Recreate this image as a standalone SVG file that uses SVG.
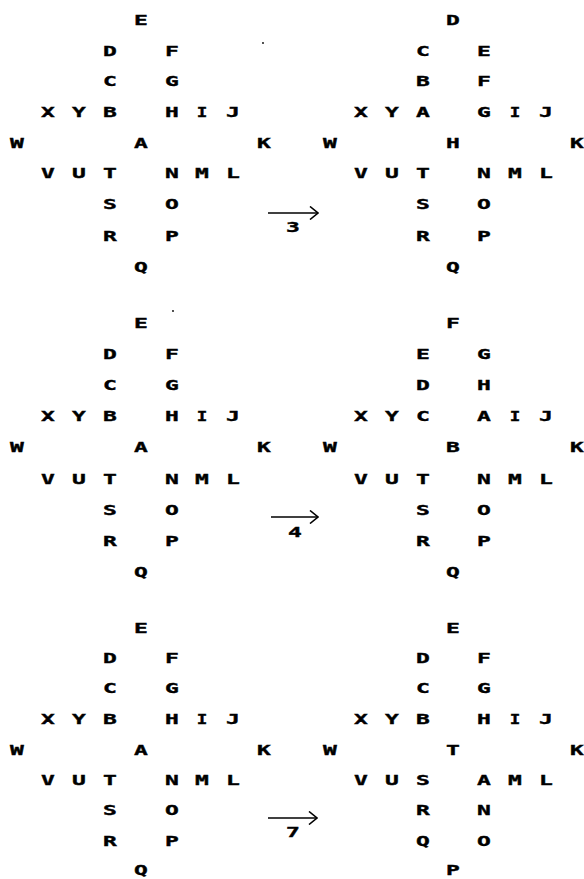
<svg xmlns="http://www.w3.org/2000/svg" width="584" height="879" viewBox="0 0 584 879">
<style>
.t{font-family:"DejaVu Sans Mono","Liberation Mono",monospace;font-weight:bold;font-size:13.5px;text-anchor:middle;fill:#000;stroke:#000;stroke-width:0.35;transform:scale(1.7,1)}
.n{transform:scale(1.3,1)}
.a{stroke:#000;stroke-width:1.6;fill:none}
</style>
<defs>
<marker id="head" viewBox="-9 -7 10 14" refX="0" refY="0" markerWidth="10" markerHeight="14" markerUnits="userSpaceOnUse" orient="auto">
<path d="M-8,-6.5 L0,0 L-8,6.5" fill="none" stroke="#000" stroke-width="1.6"/>
</marker>
</defs>
<rect width="584" height="879" fill="#fff"/>

<g id="panel1">
<g id="p1-E" transform="translate(141,25)"><text class="t">E</text></g>
<g id="p1-D" transform="translate(110,56)"><text class="t">D</text></g>
<g id="p1-F" transform="translate(172,56)"><text class="t">F</text></g>
<g id="p1-C" transform="translate(110,86)"><text class="t">C</text></g>
<g id="p1-G" transform="translate(172,86)"><text class="t">G</text></g>
<g id="p1-X" transform="translate(48,117)"><text class="t">X</text></g>
<g id="p1-Y" transform="translate(79,117)"><text class="t">Y</text></g>
<g id="p1-B" transform="translate(110,117)"><text class="t">B</text></g>
<g id="p1-H" transform="translate(172,117)"><text class="t">H</text></g>
<g id="p1-I" transform="translate(202,117)"><text class="t n">I</text></g>
<g id="p1-J" transform="translate(233,117)"><text class="t">J</text></g>
<g id="p1-W" transform="translate(17,148)"><text class="t">W</text></g>
<g id="p1-A" transform="translate(141,148)"><text class="t">A</text></g>
<g id="p1-K" transform="translate(264,148)"><text class="t">K</text></g>
<g id="p1-V" transform="translate(48,178)"><text class="t">V</text></g>
<g id="p1-U" transform="translate(79,178)"><text class="t">U</text></g>
<g id="p1-T" transform="translate(110,178)"><text class="t">T</text></g>
<g id="p1-N" transform="translate(172,178)"><text class="t">N</text></g>
<g id="p1-M" transform="translate(202,178)"><text class="t">M</text></g>
<g id="p1-L" transform="translate(233,178)"><text class="t">L</text></g>
<g id="p1-S" transform="translate(110,209)"><text class="t">S</text></g>
<g id="p1-O" transform="translate(172,209)"><text class="t">O</text></g>
<g id="p1-R" transform="translate(110,241)"><text class="t">R</text></g>
<g id="p1-P" transform="translate(172,241)"><text class="t">P</text></g>
<g id="p1-Q" transform="translate(141,272)"><text class="t">Q</text></g>
</g>

<g id="panel2">
<g id="p2-D" transform="translate(453,25)"><text class="t">D</text></g>
<g id="p2-C" transform="translate(423,56)"><text class="t">C</text></g>
<g id="p2-E" transform="translate(484,56)"><text class="t">E</text></g>
<g id="p2-B" transform="translate(423,86)"><text class="t">B</text></g>
<g id="p2-F" transform="translate(484,86)"><text class="t">F</text></g>
<g id="p2-X" transform="translate(361,117)"><text class="t">X</text></g>
<g id="p2-Y" transform="translate(392,117)"><text class="t">Y</text></g>
<g id="p2-A" transform="translate(423,117)"><text class="t">A</text></g>
<g id="p2-G" transform="translate(484,117)"><text class="t">G</text></g>
<g id="p2-I" transform="translate(515,117)"><text class="t n">I</text></g>
<g id="p2-J" transform="translate(546,117)"><text class="t">J</text></g>
<g id="p2-W" transform="translate(330,148)"><text class="t">W</text></g>
<g id="p2-H" transform="translate(453,148)"><text class="t">H</text></g>
<g id="p2-K" transform="translate(577,148)"><text class="t">K</text></g>
<g id="p2-V" transform="translate(361,178)"><text class="t">V</text></g>
<g id="p2-U" transform="translate(392,178)"><text class="t">U</text></g>
<g id="p2-T" transform="translate(423,178)"><text class="t">T</text></g>
<g id="p2-N" transform="translate(484,178)"><text class="t">N</text></g>
<g id="p2-M" transform="translate(515,178)"><text class="t">M</text></g>
<g id="p2-L" transform="translate(546,178)"><text class="t">L</text></g>
<g id="p2-S" transform="translate(423,209)"><text class="t">S</text></g>
<g id="p2-O" transform="translate(484,209)"><text class="t">O</text></g>
<g id="p2-R" transform="translate(423,241)"><text class="t">R</text></g>
<g id="p2-P" transform="translate(484,241)"><text class="t">P</text></g>
<g id="p2-Q" transform="translate(453,272)"><text class="t">Q</text></g>
</g>

<g id="panel3">
<g id="p3-E" transform="translate(141,328)"><text class="t">E</text></g>
<g id="p3-D" transform="translate(110,359)"><text class="t">D</text></g>
<g id="p3-F" transform="translate(172,359)"><text class="t">F</text></g>
<g id="p3-C" transform="translate(110,390)"><text class="t">C</text></g>
<g id="p3-G" transform="translate(172,390)"><text class="t">G</text></g>
<g id="p3-X" transform="translate(48,421)"><text class="t">X</text></g>
<g id="p3-Y" transform="translate(79,421)"><text class="t">Y</text></g>
<g id="p3-B" transform="translate(110,421)"><text class="t">B</text></g>
<g id="p3-H" transform="translate(172,421)"><text class="t">H</text></g>
<g id="p3-I" transform="translate(202,421)"><text class="t n">I</text></g>
<g id="p3-J" transform="translate(233,421)"><text class="t">J</text></g>
<g id="p3-W" transform="translate(17,452)"><text class="t">W</text></g>
<g id="p3-A" transform="translate(141,452)"><text class="t">A</text></g>
<g id="p3-K" transform="translate(264,452)"><text class="t">K</text></g>
<g id="p3-V" transform="translate(48,484)"><text class="t">V</text></g>
<g id="p3-U" transform="translate(79,484)"><text class="t">U</text></g>
<g id="p3-T" transform="translate(110,484)"><text class="t">T</text></g>
<g id="p3-N" transform="translate(172,484)"><text class="t">N</text></g>
<g id="p3-M" transform="translate(202,484)"><text class="t">M</text></g>
<g id="p3-L" transform="translate(233,484)"><text class="t">L</text></g>
<g id="p3-S" transform="translate(110,515)"><text class="t">S</text></g>
<g id="p3-O" transform="translate(172,515)"><text class="t">O</text></g>
<g id="p3-R" transform="translate(110,546)"><text class="t">R</text></g>
<g id="p3-P" transform="translate(172,546)"><text class="t">P</text></g>
<g id="p3-Q" transform="translate(141,577)"><text class="t">Q</text></g>
</g>

<g id="panel4">
<g id="p4-F" transform="translate(453,328)"><text class="t">F</text></g>
<g id="p4-E" transform="translate(423,359)"><text class="t">E</text></g>
<g id="p4-G" transform="translate(484,359)"><text class="t">G</text></g>
<g id="p4-D" transform="translate(423,390)"><text class="t">D</text></g>
<g id="p4-H" transform="translate(484,390)"><text class="t">H</text></g>
<g id="p4-X" transform="translate(361,421)"><text class="t">X</text></g>
<g id="p4-Y" transform="translate(392,421)"><text class="t">Y</text></g>
<g id="p4-C" transform="translate(423,421)"><text class="t">C</text></g>
<g id="p4-A" transform="translate(484,421)"><text class="t">A</text></g>
<g id="p4-I" transform="translate(515,421)"><text class="t n">I</text></g>
<g id="p4-J" transform="translate(546,421)"><text class="t">J</text></g>
<g id="p4-W" transform="translate(330,452)"><text class="t">W</text></g>
<g id="p4-B" transform="translate(453,452)"><text class="t">B</text></g>
<g id="p4-K" transform="translate(577,452)"><text class="t">K</text></g>
<g id="p4-V" transform="translate(361,484)"><text class="t">V</text></g>
<g id="p4-U" transform="translate(392,484)"><text class="t">U</text></g>
<g id="p4-T" transform="translate(423,484)"><text class="t">T</text></g>
<g id="p4-N" transform="translate(484,484)"><text class="t">N</text></g>
<g id="p4-M" transform="translate(515,484)"><text class="t">M</text></g>
<g id="p4-L" transform="translate(546,484)"><text class="t">L</text></g>
<g id="p4-S" transform="translate(423,515)"><text class="t">S</text></g>
<g id="p4-O" transform="translate(484,515)"><text class="t">O</text></g>
<g id="p4-R" transform="translate(423,546)"><text class="t">R</text></g>
<g id="p4-P" transform="translate(484,546)"><text class="t">P</text></g>
<g id="p4-Q" transform="translate(453,577)"><text class="t">Q</text></g>
</g>

<g id="panel5">
<g id="p5-E" transform="translate(141,633)"><text class="t">E</text></g>
<g id="p5-D" transform="translate(110,663)"><text class="t">D</text></g>
<g id="p5-F" transform="translate(172,663)"><text class="t">F</text></g>
<g id="p5-C" transform="translate(110,693)"><text class="t">C</text></g>
<g id="p5-G" transform="translate(172,693)"><text class="t">G</text></g>
<g id="p5-X" transform="translate(48,724)"><text class="t">X</text></g>
<g id="p5-Y" transform="translate(79,724)"><text class="t">Y</text></g>
<g id="p5-B" transform="translate(110,724)"><text class="t">B</text></g>
<g id="p5-H" transform="translate(172,724)"><text class="t">H</text></g>
<g id="p5-I" transform="translate(202,724)"><text class="t n">I</text></g>
<g id="p5-J" transform="translate(233,724)"><text class="t">J</text></g>
<g id="p5-W" transform="translate(17,755)"><text class="t">W</text></g>
<g id="p5-A" transform="translate(141,755)"><text class="t">A</text></g>
<g id="p5-K" transform="translate(264,755)"><text class="t">K</text></g>
<g id="p5-V" transform="translate(48,785)"><text class="t">V</text></g>
<g id="p5-U" transform="translate(79,785)"><text class="t">U</text></g>
<g id="p5-T" transform="translate(110,785)"><text class="t">T</text></g>
<g id="p5-N" transform="translate(172,785)"><text class="t">N</text></g>
<g id="p5-M" transform="translate(202,785)"><text class="t">M</text></g>
<g id="p5-L" transform="translate(233,785)"><text class="t">L</text></g>
<g id="p5-S" transform="translate(110,815)"><text class="t">S</text></g>
<g id="p5-O" transform="translate(172,815)"><text class="t">O</text></g>
<g id="p5-R" transform="translate(110,846)"><text class="t">R</text></g>
<g id="p5-P" transform="translate(172,846)"><text class="t">P</text></g>
<g id="p5-Q" transform="translate(141,875)"><text class="t">Q</text></g>
</g>

<g id="panel6">
<g id="p6-E" transform="translate(453,633)"><text class="t">E</text></g>
<g id="p6-D" transform="translate(423,663)"><text class="t">D</text></g>
<g id="p6-F" transform="translate(484,663)"><text class="t">F</text></g>
<g id="p6-C" transform="translate(423,693)"><text class="t">C</text></g>
<g id="p6-G" transform="translate(484,693)"><text class="t">G</text></g>
<g id="p6-X" transform="translate(361,724)"><text class="t">X</text></g>
<g id="p6-Y" transform="translate(392,724)"><text class="t">Y</text></g>
<g id="p6-B" transform="translate(423,724)"><text class="t">B</text></g>
<g id="p6-H" transform="translate(484,724)"><text class="t">H</text></g>
<g id="p6-I" transform="translate(515,724)"><text class="t n">I</text></g>
<g id="p6-J" transform="translate(546,724)"><text class="t">J</text></g>
<g id="p6-W" transform="translate(330,755)"><text class="t">W</text></g>
<g id="p6-T" transform="translate(453,755)"><text class="t">T</text></g>
<g id="p6-K" transform="translate(577,755)"><text class="t">K</text></g>
<g id="p6-V" transform="translate(361,785)"><text class="t">V</text></g>
<g id="p6-U" transform="translate(392,785)"><text class="t">U</text></g>
<g id="p6-S" transform="translate(423,785)"><text class="t">S</text></g>
<g id="p6-A" transform="translate(484,785)"><text class="t">A</text></g>
<g id="p6-M" transform="translate(515,785)"><text class="t">M</text></g>
<g id="p6-L" transform="translate(546,785)"><text class="t">L</text></g>
<g id="p6-R" transform="translate(423,815)"><text class="t">R</text></g>
<g id="p6-N" transform="translate(484,815)"><text class="t">N</text></g>
<g id="p6-Q" transform="translate(423,846)"><text class="t">Q</text></g>
<g id="p6-O" transform="translate(484,846)"><text class="t">O</text></g>
<g id="p6-P" transform="translate(453,875)"><text class="t">P</text></g>
</g>

<g id="connectors">
<line class="a" x1="268" y1="213" x2="318" y2="213" marker-end="url(#head)"/>
<line class="a" x1="271" y1="517" x2="318" y2="517" marker-end="url(#head)"/>
<line class="a" x1="268" y1="818" x2="317" y2="818" marker-end="url(#head)"/>
<g transform="translate(293,232)"><text class="t">3</text></g>
<g transform="translate(295,537)"><text class="t">4</text></g>
<g transform="translate(293,837)"><text class="t">7</text></g>
</g>

<g id="specks" fill="#000">
<circle cx="263" cy="43" r="0.9"/>
<circle cx="173" cy="311" r="0.9"/>
</g>
</svg>
